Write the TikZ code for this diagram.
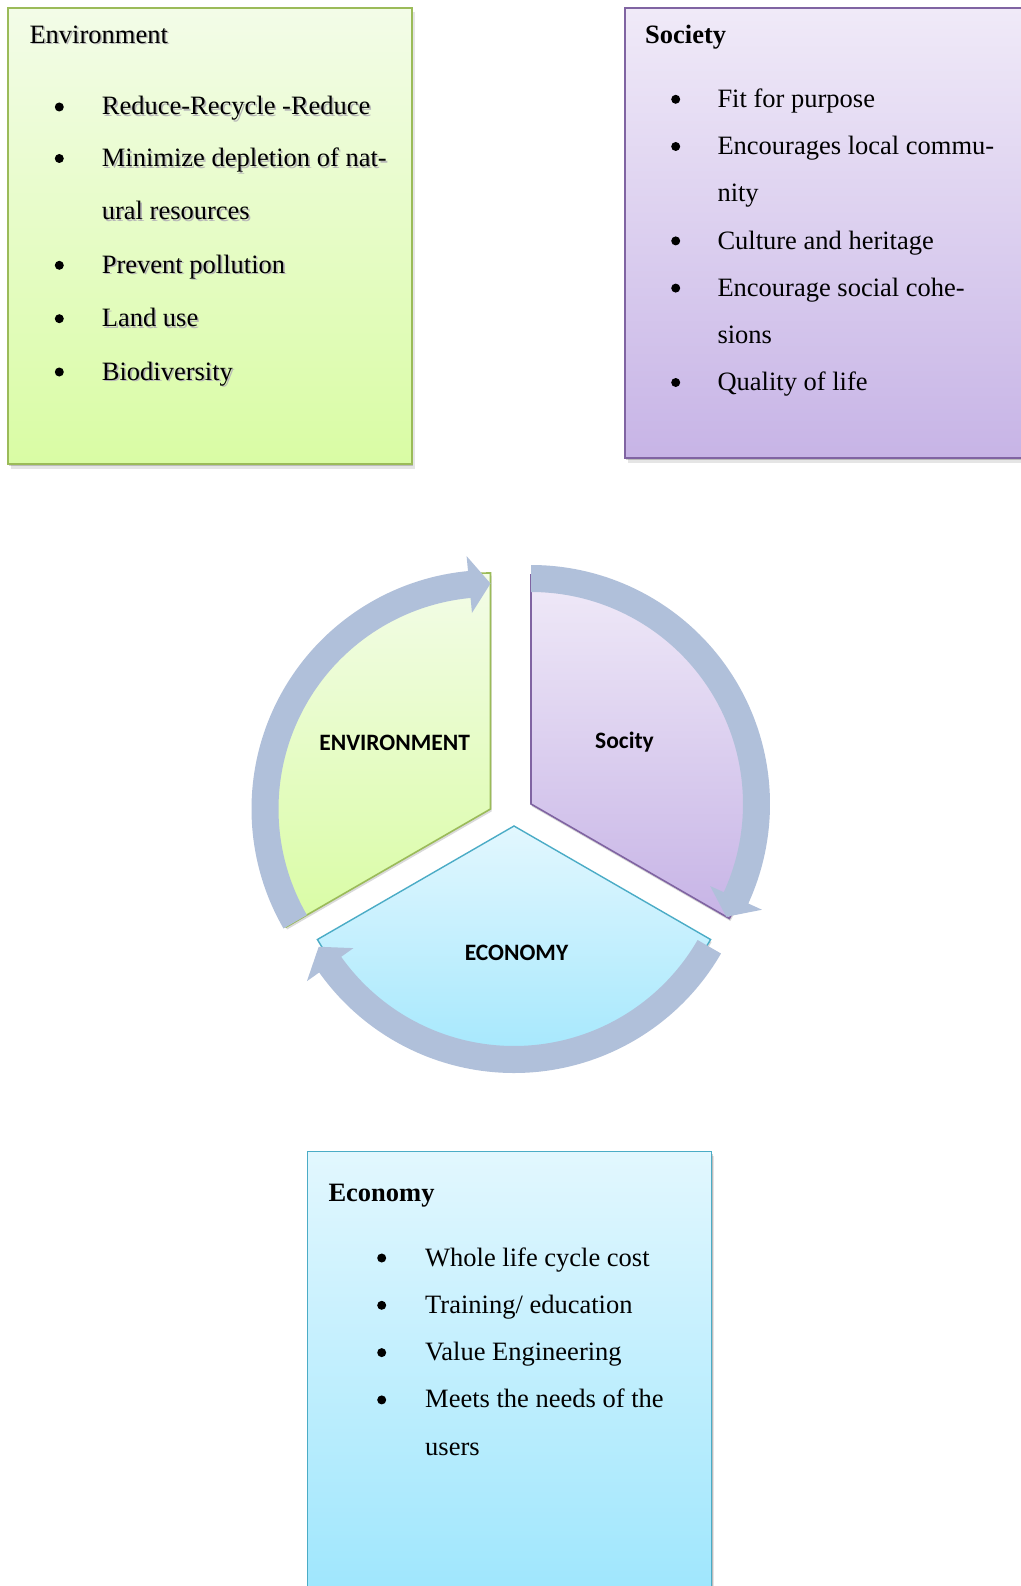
\documentclass[tikz,border=0pt]{standalone}
\usepackage{fontspec}
\setmainfont{Liberation Serif}
\newfontfamily\lblfont{Carlito}
\usetikzlibrary{shadows}

\definecolor{envline}{RGB}{155,187,89}
\definecolor{envtop}{RGB}{243,252,232}
\definecolor{envbot}{RGB}{217,252,164}
\definecolor{socline}{RGB}{128,100,162}
\definecolor{soctop}{RGB}{240,234,248}
\definecolor{socbot}{RGB}{199,180,230}
\definecolor{ecoline}{RGB}{75,172,198}
\definecolor{ecotop}{RGB}{226,247,254}
\definecolor{ecobot}{RGB}{158,230,253}
\definecolor{ringcol}{RGB}{176,192,218}

% text with a soft grey shadow behind it
\newcommand\shd[1]{\makebox[0pt][l]{\hspace{1.6pt}\raisebox{-1.6pt}{\textcolor{black!28}{#1}}}#1}

\begin{document}
\begin{tikzpicture}[x=1pt,y=1pt,
  panel/.style={line width=1.8pt,
    drop shadow={shadow xshift=1pt,shadow yshift=-2pt,opacity=.18,fill=black},
    drop shadow={shadow xshift=2.5pt,shadow yshift=-4.5pt,opacity=.10,fill=black}},
  slice/.style={line width=1.6pt,
    drop shadow={shadow xshift=1pt,shadow yshift=-2.5pt,opacity=.15,fill=black}},
  body/.style={anchor=base west,inner sep=0pt,font=\fontsize{26.5}{30}\selectfont},
  ttl/.style={body,font=\fontsize{26.5}{30}\selectfont\bfseries},
  lbl/.style={anchor=base,inner sep=0pt,font=\lblfont\fontsize{23.5}{28}\selectfont\bfseries},
  dot/.style={fill=black}
]
\useasboundingbox (0,0) rectangle (1020,-1586);
\fill[white] (0,0) rectangle (1020,-1586);

% ---------- Environment panel ----------
\path[panel,draw=envline,top color=envtop,bottom color=envbot] (8,-8) rectangle (412,-464);
\node[body] (envT) at (29.3,-43.3) {\shd{Environment}};
\fill[dot] (59.3,-107) circle (4.5);
\node[body] (env1) at (101.7,-115) {\shd{Reduce-Recycle -Reduce}};
\fill[dot] (59.3,-158.5) circle (4.5);
\node[body] (env2) at (101.7,-166.7) {\shd{Minimize depletion of nat-}};
\node[body] (env2b) at (101.7,-220) {\shd{ural resources}};
\fill[dot] (59.3,-265.3) circle (4.5);
\node[body] (env3) at (101.7,-273.3) {\shd{Prevent pollution}};
\fill[dot] (59.3,-318.7) circle (4.5);
\node[body] (env4) at (101.7,-326.7) {\shd{Land use}};
\fill[dot] (59.3,-372) circle (4.5);
\node[body] (env5) at (101.7,-380) {\shd{Biodiversity}};

% ---------- Society panel ----------
\path[panel,draw=socline,top color=soctop,bottom color=socbot] (625,-8) rectangle (1032,-458);
\node[ttl] (socT) at (645,-44) {Society};
\fill[dot] (675.7,-99.3) circle (4.5);
\node[body] (soc1) at (717.3,-107.5) {Fit for purpose};
\fill[dot] (675.7,-146.5) circle (4.5);
\node[body] (soc2) at (717.3,-154.7) {Encourages local commu-};
\node[body] (soc2b) at (717.3,-201.9) {nity};
\fill[dot] (675.7,-240.9) circle (4.5);
\node[body] (soc3) at (717.3,-249.1) {Culture and heritage};
\fill[dot] (675.7,-288.1) circle (4.5);
\node[body] (soc4) at (717.3,-296.3) {Encourage social cohe-};
\node[body] (soc4b) at (717.3,-343.5) {sions};
\fill[dot] (675.7,-382.5) circle (4.5);
\node[body] (soc5) at (717.3,-390.7) {Quality of life};

% ---------- Economy panel ----------
\path[panel,draw=ecoline,line width=1.4pt,top color=ecotop,bottom color=ecobot] (307.3,-1151.7) rectangle (711.7,-1600);
\node[ttl] (ecoT) at (328.3,-1201.7) {Economy};
\fill[dot] (381.7,-1258) circle (4.5);
\node[body] (eco1) at (425,-1266) {Whole life cycle cost};
\fill[dot] (381.7,-1305.3) circle (4.5);
\node[body] (eco2) at (425,-1313.3) {Training/ education};
\fill[dot] (381.7,-1352.6) circle (4.5);
\node[body] (eco3) at (425,-1360.6) {Value Engineering};
\fill[dot] (381.7,-1399.9) circle (4.5);
\node[body] (eco4) at (425,-1407.9) {Meets the needs of the};
\node[body] (eco4b) at (425,-1455.2) {users};

% ---------- segmented cycle: slices ----------
\begin{scope}[shift={(490.5,-809)}]
  \path[slice,draw=envline,top color=envtop,bottom color=envbot]
    (0,0) -- (90:236) arc (90:210:236) -- cycle;
\end{scope}
\begin{scope}[shift={(531,-804)}]
  \path[slice,draw=socline,top color=soctop,bottom color=socbot]
    (0,0) -- (90:229) arc (90:-30:229) -- cycle;
\end{scope}
\begin{scope}[shift={(514,-826)}]
  \path[slice,draw=ecoline,line width=1.4pt,top color=ecotop,bottom color=ecobot]
    (0,0) -- (210:227) arc (210:330:227) -- cycle;
\end{scope}

% ---------- segmented cycle: circular arrows ----------
\begin{scope}[shift={(490.5,-809)}]
  \fill[ringcol] (210:239) arc (210:95.4:239) -- (95.4:254) -- (90:225.5)
    -- (95.4:197) -- (95.4:212) arc (95.4:210:212) -- cycle;
\end{scope}
\begin{scope}[shift={(531,-804)}]
  \fill[ringcol] (90:239) arc (90:-24.6:239) -- (-24.6:254) -- (-30:225.5)
    -- (-24.6:197) -- (-24.6:212) arc (-24.6:90:212) -- cycle;
\end{scope}
\begin{scope}[shift={(514,-834)}]
  \fill[ringcol] (-30:239) arc (-30:-144.6:239) -- (-144.6:254) -- (-150:225.5)
    -- (-144.6:197) -- (-144.6:212) arc (-144.6:-30:212) -- cycle;
\end{scope}

% ---------- slice labels ----------
\node[lbl] (envL) at (394.6,-750) {ENVIRONMENT};
\node[lbl] (socL) at (624.5,-748) {Socity};
\node[lbl] (ecoL) at (516.5,-960) {ECONOMY};
\end{tikzpicture}
\end{document}
